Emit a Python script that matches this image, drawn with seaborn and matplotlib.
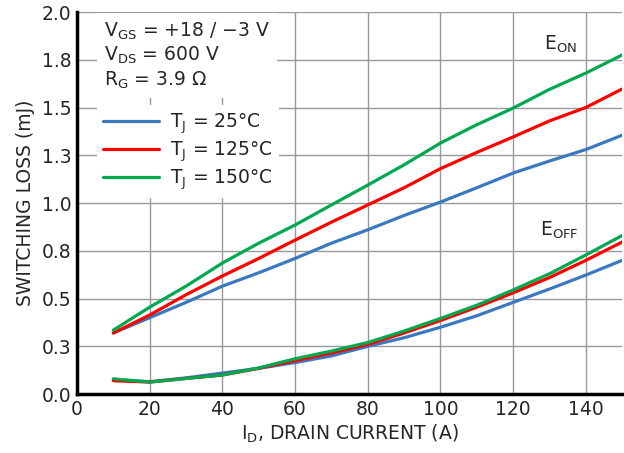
import numpy as np
import pandas as pd
import seaborn as sns
import matplotlib
matplotlib.use('Agg')
import matplotlib.pyplot as plt

# Drain current (A)
current = [10, 20, 30, 40, 50, 60, 70, 80, 90, 100, 110, 120, 130, 140, 150]
temps = ['25', '125', '150']

# Turn-on switching loss (mJ)
eon_25 = [0.32, 0.40, 0.48, 0.565, 0.635, 0.71, 0.79, 0.86, 0.935, 1.005, 1.08, 1.157, 1.22, 1.28, 1.355]
eon_125 = [0.32, 0.414, 0.52, 0.618, 0.71, 0.806, 0.90, 0.99, 1.08, 1.18, 1.265, 1.346, 1.43, 1.50, 1.597]
eon_150 = [0.335, 0.455, 0.565, 0.686, 0.79, 0.885, 0.99, 1.094, 1.20, 1.314, 1.41, 1.497, 1.595, 1.68, 1.775]

# Turn-off switching loss (mJ)
eoff_25 = [0.075, 0.065, 0.085, 0.11, 0.135, 0.165, 0.20, 0.25, 0.295, 0.35, 0.41, 0.48, 0.55, 0.623, 0.70]
eoff_125 = [0.07, 0.063, 0.082, 0.10, 0.135, 0.175, 0.215, 0.26, 0.32, 0.385, 0.455, 0.53, 0.61, 0.70, 0.796]
eoff_150 = [0.08, 0.063, 0.082, 0.10, 0.137, 0.185, 0.225, 0.27, 0.33, 0.396, 0.465, 0.545, 0.63, 0.728, 0.83]

ytick_vals = [0, 0.25, 0.5, 0.75, 1.0, 1.25, 1.5, 1.75, 2.0]
ytick_labels = ['0.0', '0.3', '0.5', '0.8', '1.0', '1.3', '1.5', '1.8', '2.0']

sns.set_style('white')
plt.rcParams['font.family'] = ['DejaVu Sans']
plt.rcParams['mathtext.fontset'] = 'dejavusans'

rows = []
for t, on, off in zip(temps, [eon_25, eon_125, eon_150], [eoff_25, eoff_125, eoff_150]):
    for x, a, b in zip(current, on, off):
        rows.append({'I': x, 'T': t, 'Eon': a, 'Eoff': b})
df = pd.DataFrame(rows)

palette = {'25': '#3a78c0', '125': '#ff0000', '150': '#00a84f'}
fs = 13.5

fig = plt.figure(figsize=(6.24, 4.53), dpi=100)
ax = fig.add_axes([0.1234, 0.130, 0.8736, 0.8435])

sns.lineplot(data=df, x='I', y='Eon', hue='T', palette=palette, lw=2.3, ax=ax, legend=False)
sns.lineplot(data=df, x='I', y='Eoff', hue='T', palette=palette, lw=2.3, ax=ax, legend=False)

ax.set_xlim(0, 150)
ax.set_ylim(0, 2.0)
ax.set_xticks(range(0, 160, 20))
ax.set_yticks(ytick_vals)
ax.set_yticklabels(ytick_labels)
ax.tick_params(labelsize=fs, length=0, pad=4)
ax.grid(True, color='#999999', lw=1)
ax.set_axisbelow(True)
for s in ['top', 'right']:
    ax.spines[s].set_visible(False)
for s in ['left', 'bottom']:
    ax.spines[s].set_color('black')
    ax.spines[s].set_linewidth(2.5)

ax.set_xlabel(r'I$_{\mathrm{D}}$, DRAIN CURRENT (A)', fontsize=fs, labelpad=3)
ax.set_ylabel('SWITCHING LOSS (mJ)', fontsize=fs, labelpad=5)

ax.text(0.05, 0.978, 'V$_{\\mathrm{GS}}$ = +18 / \u22123 V\nV$_{\\mathrm{DS}}$ = 600 V\nR$_{\\mathrm{G}}$ = 3.9 \u03a9',
        transform=ax.transAxes, fontsize=fs, va='top', ha='left', linespacing=1.2,
        bbox=dict(facecolor='white', edgecolor='none', pad=5))

handles = [plt.Line2D([], [], color=palette[t], lw=2.3) for t in temps]
labels = ['T$_{\\mathrm{J}}$ = 25\u00b0C', 'T$_{\\mathrm{J}}$ = 125\u00b0C', 'T$_{\\mathrm{J}}$ = 150\u00b0C']
leg = ax.legend(handles, labels, loc='upper left', bbox_to_anchor=(0.02, 0.78), fontsize=fs,
                frameon=True, framealpha=1, edgecolor='none', handlelength=3.0,
                handletextpad=0.6, labelspacing=0.2, borderpad=0.3)
leg.get_frame().set_facecolor('white')

ax.text(128.5, 1.83, 'E$_{\\mathrm{ON}}$', fontsize=fs, ha='left', va='center',
        bbox=dict(facecolor='white', edgecolor='none', pad=2))
ax.text(127.5, 0.855, 'E$_{\\mathrm{OFF}}$', fontsize=fs, ha='left', va='center',
        bbox=dict(facecolor='white', edgecolor='none', pad=2))

fig.savefig('out.png', dpi=100)
